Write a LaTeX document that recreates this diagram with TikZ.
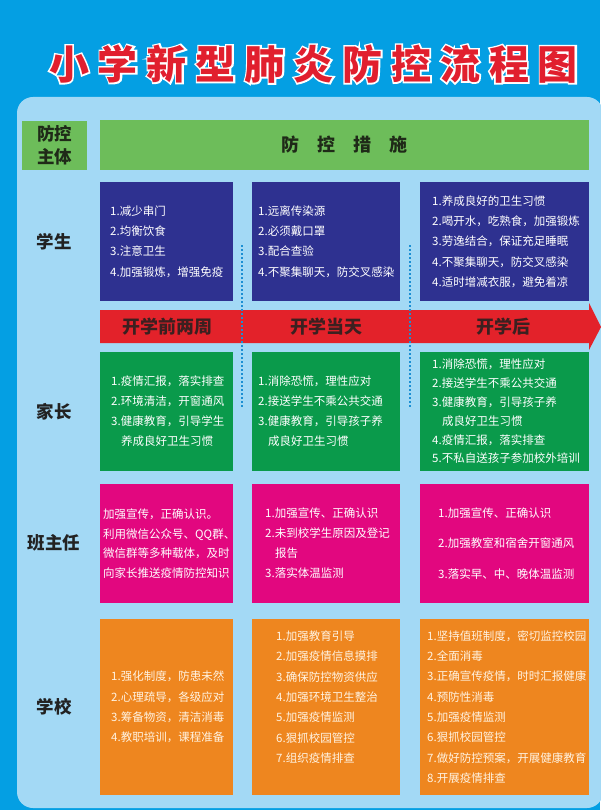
\documentclass[tikz,border=0pt]{standalone}
\usepackage{fontspec}
\setmainfont{Noto Sans CJK SC}
\newfontfamily\rimfont{Noto Sans CJK SC}[BoldFeatures={FakeBold=8}]
\usetikzlibrary{positioning}

\definecolor{bgblue}{HTML}{049FE3}
\definecolor{panelblue}{HTML}{A3D9F5}
\definecolor{headgreen}{HTML}{6DBD5A}
\definecolor{headtext}{HTML}{1F2A18}
\definecolor{titlered}{HTML}{E11F2E}
\definecolor{stublue}{HTML}{2E3190}
\definecolor{parentgreen}{HTML}{0A9A4B}
\definecolor{teachpink}{HTML}{E2077F}
\definecolor{schoolorange}{HTML}{EE861F}
\definecolor{schooltext}{HTML}{FFF3E2}
\definecolor{arrowred}{HTML}{E3222A}
\definecolor{stagetext}{HTML}{3B2020}
\definecolor{darktext}{HTML}{222222}
\definecolor{sepblue}{HTML}{1B8FD3}

\newcommand\posterTitle{小\hspace{8.9pt}学\hspace{8.9pt}新\hspace{8.9pt}型\hspace{8.9pt}肺\hspace{8.9pt}炎\hspace{8.9pt}防\hspace{8.9pt}控\hspace{8.9pt}流\hspace{8.9pt}程\hspace{8.9pt}图}

\tikzset{
  cell/.style={inner sep=0, outer sep=0},
  txt/.style={font=\fontsize{11.5}{#1}\selectfont, text=white, align=left, inner sep=0, anchor=west},
  txt/.default=20.3,
  role/.style={font=\bfseries\fontsize{17.5}{23}\selectfont, text=darktext, align=center, inner sep=0},
  stage/.style={font=\bfseries\fontsize{18}{20}\selectfont, text=stagetext, inner sep=0},
  titletxt/.style={font=\bfseries\fontsize{40}{40}\selectfont, text=titlered, inner sep=0},
  titlerim/.style={font=\rimfont\bfseries\fontsize{40}{40}\selectfont, text=white, inner sep=0},
  sep/.style={sepblue, line width=1.3, dash pattern=on 2pt off 2pt},
}

\begin{document}
\begin{tikzpicture}[x=1pt,y=-1pt]
\useasboundingbox (0,0) rectangle (600,810);
\fill[bgblue] (0,0) rectangle (600,810);
\fill[panelblue,rounded corners=16] (17,97) rectangle (603,808);

% title: white fake-bold rim under the red letters
\node[titlerim] (rim) at (313.5,64) {\posterTitle};
\node[titletxt] (title) at (rim) {\posterTitle};

% header row
\node[cell,fill=headgreen,minimum width=65,minimum height=49,role,text=headtext] (hrole) at (54.5,145.5) {防控\\主体};
\node[cell,fill=headgreen,minimum width=489,minimum height=50,role,text=headtext,font=\bfseries\fontsize{18}{20}\selectfont] (hmeas) at (344.5,145) {防\quad 控\quad 措\quad 施};

% roles
\node[role] (rstu) at (54,242) {学生};
\node[role] (rpar) at (54,412) {家长};
\node[role] (rtea) at (54,543) {班主任};
\node[role] (rsch) at (54,707) {学校};

% students
\node[cell,fill=stublue,minimum width=133,minimum height=119] (s1) at (166.5,241.5) {};
\node[cell,fill=stublue,minimum width=148,minimum height=119] (s2) at (326,241.5) {};
\node[cell,fill=stublue,minimum width=169,minimum height=119] (s3) at (504.5,241.5) {};
\node[txt] (s1t) at ([xshift=10]s1.west) {1.减少串门\\2.均衡饮食\\3.注意卫生\\4.加强锻炼，增强免疫};
\node[txt] (s2t) at ([xshift=6]s2.west) {1.远离传染源\\2.必须戴口罩\\3.配合查验\\4.不聚集聊天，防交叉感染};
\node[txt] (s3t) at ([xshift=12]s3.west) {1.养成良好的卫生习惯\\2.喝开水，吃熟食，加强锻炼\\3.劳逸结合，保证充足睡眠\\4.不聚集聊天，防交叉感染\\4.适时增减衣服，避免着凉};

% time arrow
\fill[arrowred] (100,310) -- (589,310) -- (589,303) -- (601,327) -- (589,350) -- (589,343) -- (100,343) -- cycle;
\node[stage] (before) at (167,327) {开学前两周};
\node[stage] (day) at (326,327) {开学当天};
\node[stage] (after) at (503,327) {开学后};

\draw[sep] (242,245) -- (242,407);
\draw[sep] (410,245) -- (410,407);

% parents
\node[cell,fill=parentgreen,minimum width=133,minimum height=119] (p1) at (166.5,411.5) {};
\node[cell,fill=parentgreen,minimum width=148,minimum height=119] (p2) at (326,411.5) {};
\node[cell,fill=parentgreen,minimum width=169,minimum height=119] (p3) at (504.5,411.5) {};
\node[txt=20] (p1t) at ([xshift=11]p1.west) {1.疫情汇报，落实排查\\2.环境清洁，开窗通风\\3.健康教育，引导学生\\\hspace*{10pt}养成良好卫生习惯};
\node[txt=20] (p2t) at ([xshift=6]p2.west) {1.消除恐慌，理性应对\\2.接送学生不乘公共交通\\3.健康教育，引导孩子养\\\hspace*{10pt}成良好卫生习惯};
\node[txt=18.8] (p3t) at ([xshift=12]p3.west) {1.消除恐慌，理性应对\\2.接送学生不乘公共交通\\3.健康教育，引导孩子养\\\hspace*{10pt}成良好卫生习惯\\4.疫情汇报，落实排查\\5.不私自送孩子参加校外培训};

% head teachers
\node[cell,fill=teachpink,minimum width=133,minimum height=119] (m1) at (166.5,543.5) {};
\node[cell,fill=teachpink,minimum width=148,minimum height=119] (m2) at (326,543.5) {};
\node[cell,fill=teachpink,minimum width=169,minimum height=119] (m3) at (504.5,543.5) {};
\node[txt=19.7] (m1t) at ([xshift=3]m1.west) {加强宣传，正确认识。\\利用微信公众号、QQ群、\\微信群等多种载体，及时\\向家长推送疫情防控知识};
\node[txt=20] (m2t) at ([xshift=13]m2.west) {1.加强宣传、正确认识\\2.未到校学生原因及登记\\\hspace*{10pt}报告\\3.落实体温监测};
\node[txt=30.5] (m3t) at ([xshift=18]m3.west) {1.加强宣传、正确认识\\2.加强教室和宿舍开窗通风\\3.落实早、中、晚体温监测};

% school
\node[cell,fill=schoolorange,minimum width=133,minimum height=176] (o1) at (166.5,707) {};
\node[cell,fill=schoolorange,minimum width=148,minimum height=176] (o2) at (326,707) {};
\node[cell,fill=schoolorange,minimum width=169,minimum height=176] (o3) at (504.5,707) {};
\node[txt,text=schooltext] (o1t) at ([xshift=11]o1.west) {1.强化制度，防患未然\\2.心理疏导，各级应对\\3.筹备物资，清洁消毒\\4.教职培训，课程准备};
\node[txt,text=schooltext] (o2t) at (276,697) {1.加强教育引导\\2.加强疫情信息摸排\\3.确保防控物资供应\\4.加强环境卫生整治\\5.加强疫情监测\\6.狠抓校园管控\\7.组织疫情排查};
\node[txt,text=schooltext] (o3t) at ([xshift=7]o3.west) {1.坚持值班制度，密切监控校园\\2.全面消毒\\3.正确宣传疫情，时时汇报健康\\4.预防性消毒\\5.加强疫情监测\\6.狠抓校园管控\\7.做好防控预案，开展健康教育\\8.开展疫情排查};

\end{tikzpicture}
\end{document}
